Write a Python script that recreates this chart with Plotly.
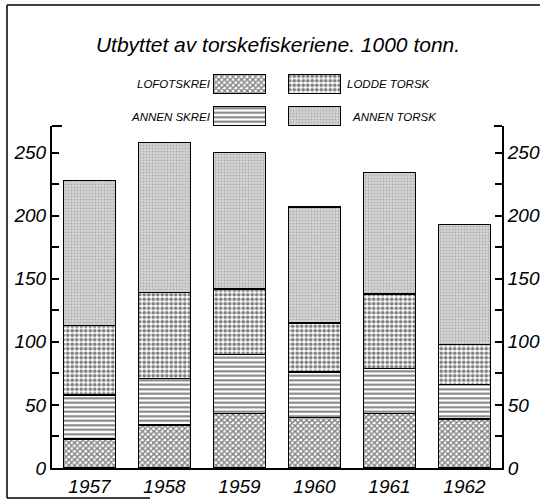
import plotly.graph_objects as go

# Utbyttet av torskefiskeriene, 1000 tonn
years = ["1957", "1958", "1959", "1960", "1961", "1962"]
lofotskrei = [23, 34, 43, 40, 43, 39]
annen_skrei = [35, 37, 47, 36, 36, 27]
lodde_torsk = [55, 68, 52, 39, 59, 32]
annen_torsk = [115, 119, 108, 92, 96, 95]

yticks = [0, 50, 100, 150, 200, 250]
ymax = 271

FONT = "Liberation Sans"
W, H = 542, 500
ML, MR, MT, MB = 52, 40, 70, 32
PW, PH = W - ML - MR, H - MT - MB


# pixel -> paper helpers (for layout bits only)
def px(x):
    return (x - ML) / PW


def py(y):
    return (H - MB - y) / PH


styles = {
    "LOFOTSKREI": dict(color="white", pattern=dict(shape="x", fgcolor="black", size=4, solidity=0.6)),
    "ANNEN SKREI": dict(color="white", pattern=dict(shape="-", fgcolor="black", size=4.5, solidity=0.45)),
    "LODDE TORSK": dict(color="white", pattern=dict(shape=".", fgcolor="black", size=4.5, solidity=0.55)),
    "ANNEN TORSK": dict(color="#d4d4d4", pattern=dict(shape=".", fgcolor="#8a8a8a", size=3, solidity=0.35)),
}
series = [
    ("LOFOTSKREI", lofotskrei),
    ("ANNEN SKREI", annen_skrei),
    ("LODDE TORSK", lodde_torsk),
    ("ANNEN TORSK", annen_torsk),
]

fig = go.Figure()
for name, vals in series:
    st = styles[name]
    fig.add_trace(go.Bar(
        x=years, y=vals, name=name, showlegend=False,
        marker=dict(color=st["color"], pattern=st["pattern"],
                    line=dict(color="black", width=1.5)),
    ))

# empty trace so the mirrored right-hand axis gets drawn
fig.add_trace(go.Scatter(x=[], y=[], yaxis="y4", showlegend=False, hoverinfo="skip"))

# hand-made legend: two rows of swatches, drawn as bars on small helper axes
legend_rows = [["LOFOTSKREI", "LODDE TORSK"], ["ANNEN SKREI", "ANNEN TORSK"]]
for r, row in enumerate(legend_rows):
    yax = "y2" if r == 0 else "y3"
    for c, name in enumerate(row):
        st = styles[name]
        fig.add_trace(go.Bar(
            x=[c], y=[1], xaxis="x2", yaxis=yax, showlegend=False, hoverinfo="skip",
            marker=dict(color=st["color"], pattern=st["pattern"],
                        line=dict(color="black", width=1.2)),
        ))

tickfont = dict(family=FONT, size=19, color="black", style="italic")
yaxis_common = dict(
    range=[0, ymax], tickvals=yticks, ticks="inside", ticklen=7, tickwidth=1.5,
    tickcolor="black", showline=True, linecolor="black", linewidth=2,
    showgrid=False, zeroline=False, tickfont=tickfont, automargin=False,
    minor=dict(tickvals=[25, 75, 125, 175, 225], ticks="inside", ticklen=7,
               tickwidth=1.5, tickcolor="black"),
    domain=[0, py(126)],
)

fig.update_layout(
    width=W, height=H,
    margin=dict(l=ML, r=MR, t=MT, b=MB),
    paper_bgcolor="white", plot_bgcolor="white",
    barmode="stack", bargap=0.31,
    title=dict(text="Utbyttet av torskefiskeriene. 1000 tonn.",
               x=278 / W, xanchor="center", xref="container",
               y=1 - 45 / H, yanchor="middle", yref="container",
               font=dict(family=FONT, size=21, color="black", style="italic")),
    xaxis=dict(showline=True, linecolor="black", linewidth=2, ticks="",
               tickfont=dict(family=FONT, size=19, color="black", style="italic"),
               showgrid=False, range=[-0.5, 5.5], automargin=False),
    yaxis=yaxis_common,
    yaxis4=dict(yaxis_common, overlaying="y", side="right", anchor="x"),
    xaxis2=dict(domain=[px(202), px(352)], range=[-0.5, 1.5], anchor="y2",
                visible=False),
    yaxis2=dict(domain=[py(94), py(74)], range=[0, 1], anchor="x2", visible=False),
    yaxis3=dict(domain=[py(126), py(106)], range=[0, 1], anchor="x2", visible=False),
    showlegend=False,
)

lab = dict(family=FONT, size=11.5, color="black", style="italic")
for text, x, y, anchor in [
    ("LOFOTSKREI", 213, 84, "right"),
    ("ANNEN SKREI", 213, 117, "right"),
    ("LODDE TORSK", 345, 84, "left"),
    ("ANNEN TORSK", 350, 117, "left"),
]:
    fig.add_annotation(text=text, x=px(x), y=py(y), xref="paper", yref="paper",
                       xanchor=anchor, yanchor="middle", showarrow=False, font=lab)

# outer frame (left, top, bottom) and the small brackets at the axis tops
line = dict(color="black", width=1.5)
fig.add_shape(type="line", xref="paper", yref="paper", x0=px(7), x1=px(7), y0=py(5), y1=py(498), line=line)
fig.add_shape(type="line", xref="paper", yref="paper", x0=px(7), x1=px(540), y0=py(5), y1=py(5), line=line)
fig.add_shape(type="line", xref="paper", yref="paper", x0=px(7), x1=px(150), y0=py(498), y1=py(498), line=line)
fig.add_shape(type="line", xref="paper", yref="paper", x0=0, x1=px(62), y0=py(126), y1=py(126), line=dict(color="black", width=2))
fig.add_shape(type="line", xref="paper", yref="paper", x0=px(494), x1=1, y0=py(126), y1=py(126), line=dict(color="black", width=2))

# drop the page's default body margin so the figure sits at the window corner
fig.write_html("out.html", config={"displayModeBar": False},
               post_script="document.body.style.margin='0';document.body.style.overflow='hidden';")
